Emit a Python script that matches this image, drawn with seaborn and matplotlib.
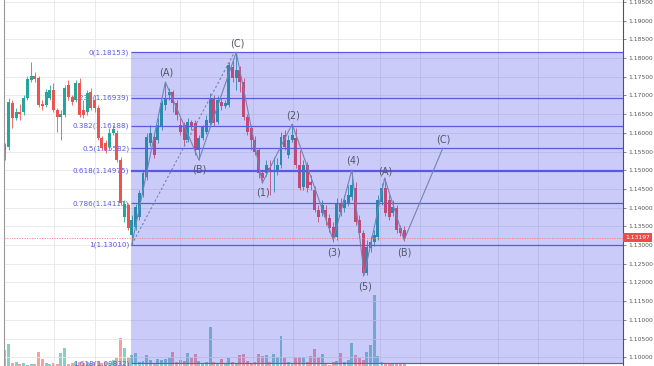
import numpy as np
import pandas as pd
import matplotlib
matplotlib.use("Agg")
import matplotlib.pyplot as plt
import matplotlib.transforms as mtransforms
import seaborn as sns

# OHLC (EUR/USD style), one entry per candle
opens = [1.1554, 1.1562, 1.1680, 1.1640, 1.1656, 1.1656, 1.1693, 1.1741, 1.1752, 1.1747,
         1.1677, 1.1674, 1.1693, 1.1714, 1.1661, 1.1642, 1.1648, 1.1728, 1.1696, 1.1688,
         1.1733, 1.1661, 1.1656, 1.1709, 1.1688, 1.1666, 1.1586, 1.1573, 1.1562, 1.1599,
         1.1599, 1.1527, 1.1375, 1.1407, 1.1327, 1.1348, 1.1375, 1.1434, 1.1482, 1.1573,
         1.1589, 1.1581, 1.1615, 1.1674, 1.1701, 1.1709, 1.1680, 1.1621, 1.1621, 1.1581,
         1.1629, 1.1626, 1.1554, 1.1586, 1.1602, 1.1626, 1.1693, 1.1629, 1.1682, 1.1672,
         1.1674, 1.1776, 1.1747, 1.1768, 1.1736, 1.1642, 1.1613, 1.1581, 1.1554, 1.1492,
         1.1492, 1.1506, 1.1495, 1.1495, 1.1514, 1.1594, 1.1541, 1.1581, 1.1586, 1.1514,
         1.1455, 1.1514, 1.1468, 1.1447, 1.1394, 1.1386, 1.1394, 1.1372, 1.1348, 1.1321,
         1.1412, 1.1399, 1.1412, 1.1428, 1.1452, 1.1367, 1.1332, 1.1225, 1.1292, 1.1308,
         1.1321, 1.1415, 1.1452, 1.1420, 1.1386, 1.1399, 1.1345, 1.1340]
highs = [1.1573, 1.1693, 1.1688, 1.1666, 1.1677, 1.1701, 1.1752, 1.1789, 1.1763, 1.1752,
         1.1688, 1.1717, 1.1728, 1.1733, 1.1666, 1.1661, 1.1728, 1.1741, 1.1701, 1.1741,
         1.1747, 1.1688, 1.1714, 1.1720, 1.1701, 1.1674, 1.1591, 1.1581, 1.1613, 1.1621,
         1.1607, 1.1535, 1.1420, 1.1412, 1.1380, 1.1410, 1.1447, 1.1501, 1.1599, 1.1621,
         1.1599, 1.1640, 1.1688, 1.1736, 1.1720, 1.1714, 1.1688, 1.1640, 1.1629, 1.1640,
         1.1634, 1.1634, 1.1594, 1.1621, 1.1648, 1.1706, 1.1701, 1.1698, 1.1693, 1.1688,
         1.1789, 1.1795, 1.1815, 1.1779, 1.1747, 1.1650, 1.1621, 1.1591, 1.1559, 1.1501,
         1.1527, 1.1527, 1.1535, 1.1533, 1.1602, 1.1607, 1.1594, 1.1624, 1.1613, 1.1554,
         1.1527, 1.1522, 1.1487, 1.1458, 1.1407, 1.1420, 1.1407, 1.1383, 1.1361, 1.1426,
         1.1426, 1.1434, 1.1460, 1.1495, 1.1468, 1.1380, 1.1340, 1.1313, 1.1324, 1.1340,
         1.1434, 1.1466, 1.1479, 1.1434, 1.1420, 1.1407, 1.1353, 1.1351]
lows = [1.1527, 1.1554, 1.1613, 1.1634, 1.1634, 1.1648, 1.1688, 1.1736, 1.1736, 1.1669,
        1.1661, 1.1669, 1.1688, 1.1656, 1.1602, 1.1581, 1.1642, 1.1688, 1.1674, 1.1682,
        1.1642, 1.1640, 1.1648, 1.1661, 1.1656, 1.1581, 1.1554, 1.1546, 1.1554, 1.1594,
        1.1522, 1.1407, 1.1361, 1.1340, 1.1301, 1.1340, 1.1367, 1.1428, 1.1474, 1.1565,
        1.1533, 1.1573, 1.1607, 1.1661, 1.1688, 1.1656, 1.1634, 1.1594, 1.1567, 1.1575,
        1.1607, 1.1541, 1.1527, 1.1581, 1.1597, 1.1621, 1.1618, 1.1624, 1.1661, 1.1666,
        1.1669, 1.1736, 1.1714, 1.1709, 1.1634, 1.1594, 1.1554, 1.1541, 1.1479, 1.1466,
        1.1484, 1.1434, 1.1442, 1.1487, 1.1506, 1.1554, 1.1533, 1.1575, 1.1506, 1.1447,
        1.1447, 1.1442, 1.1447, 1.1388, 1.1361, 1.1378, 1.1353, 1.1335, 1.1308, 1.1313,
        1.1378, 1.1388, 1.1404, 1.1420, 1.1353, 1.1319, 1.1217, 1.1220, 1.1281, 1.1297,
        1.1313, 1.1407, 1.1378, 1.1367, 1.1378, 1.1332, 1.1324, 1.1311]
closes = [1.1567, 1.1682, 1.1640, 1.1656, 1.1650, 1.1693, 1.1744, 1.1752, 1.1744, 1.1674,
          1.1672, 1.1709, 1.1714, 1.1661, 1.1642, 1.1650, 1.1720, 1.1696, 1.1682, 1.1733,
          1.1648, 1.1648, 1.1706, 1.1666, 1.1666, 1.1586, 1.1559, 1.1554, 1.1599, 1.1610,
          1.1527, 1.1412, 1.1410, 1.1345, 1.1367, 1.1402, 1.1439, 1.1492, 1.1589, 1.1599,
          1.1541, 1.1621, 1.1680, 1.1693, 1.1709, 1.1680, 1.1648, 1.1602, 1.1581, 1.1629,
          1.1618, 1.1554, 1.1586, 1.1615, 1.1634, 1.1693, 1.1626, 1.1688, 1.1672, 1.1680,
          1.1781, 1.1747, 1.1768, 1.1736, 1.1642, 1.1602, 1.1581, 1.1549, 1.1492, 1.1479,
          1.1514, 1.1495, 1.1501, 1.1514, 1.1589, 1.1562, 1.1581, 1.1594, 1.1514, 1.1452,
          1.1514, 1.1452, 1.1460, 1.1394, 1.1375, 1.1407, 1.1375, 1.1345, 1.1319, 1.1412,
          1.1388, 1.1420, 1.1434, 1.1460, 1.1361, 1.1332, 1.1225, 1.1295, 1.1308, 1.1327,
          1.1420, 1.1452, 1.1386, 1.1375, 1.1402, 1.1340, 1.1332, 1.13197]
volumes = [16, 22, 3, 4, 2, 3, 1, 2, 2, 14, 7, 3, 2, 3, 2, 13, 18, 2, 3, 4,
           4, 3, 4, 3, 4, 5, 3, 4, 3, 6, 8, 28, 18, 9, 11, 13, 4, 5, 11, 6,
           3, 7, 6, 7, 8, 14, 4, 6, 5, 13, 8, 12, 5, 3, 4, 39, 4, 3, 7, 3,
           8, 4, 3, 11, 12, 5, 3, 4, 12, 10, 11, 4, 12, 9, 30, 8, 4, 3, 9, 9,
           9, 4, 10, 17, 9, 12, 2, 1, 4, 5, 13, 4, 6, 23, 11, 8, 6, 14, 21, 71,
           10, 4, 3, 2, 2, 3, 2, 2]

fib_ratios = ["0", "0.236", "0.382", "0.5", "0.618", "0.786", "1", "1.618"]
fib_prices = [1.18153, 1.16939, 1.16188, 1.15582, 1.14975, 1.14111, 1.13010, 1.09832]
fib_start = 33.9

# Elliott wave pivots: (candle index, price, label, label offset in pt)
wave_abc_idx = [34, 43, 52, 62]
wave_abc_px = [1.13010, 1.17358, 1.15273, 1.18153]
wave_abc_lbl = ["", "(A)", "(B)", "(C)"]
wave_abc_dy = [0, 6.5, -7, 6.5]

wave_imp_idx = [62, 69, 77, 88, 93, 96.3, 101.8, 107, 117.4]
wave_imp_px = [1.18153, 1.14658, 1.16235, 1.13133, 1.15005, 1.12197, 1.14791, 1.13133, 1.15593]
wave_imp_lbl = ["", "(1)", "(2)", "(3)", "(4)", "(5)", "(A)", "(B)", "(C)"]
wave_imp_dy = [0, -7, 6, -9, 6.5, -8, 5, -9, 6]

current_price = 1.13197
price_ticks = [1.100, 1.105, 1.110, 1.115, 1.120, 1.125, 1.130, 1.135, 1.140,
               1.145, 1.150, 1.155, 1.160, 1.165, 1.170, 1.175, 1.180, 1.185,
               1.190, 1.195]
vgrid = [13.1, 24.1, 46.9, 66.5, 77.2, 89.3, 100.5, 111.3, 132.2, 142.9, 155.0]

GREEN = "#26a69a"
RED = "#ef5350"
FIB = "#5a5ae0"

df = pd.DataFrame({"o": opens, "h": highs, "l": lows, "c": closes, "v": volumes})
df["idx"] = np.arange(len(df))
df["up"] = df["c"] >= df["o"]
df["col"] = np.where(df["up"], GREEN, RED)

sns.set_style("white")
plt.rcParams["font.family"] = ["DejaVu Sans"]

fig = plt.figure(figsize=(6.54, 3.66), dpi=100)
rect = [4 / 654, 0, 619 / 654, 1]
xlim = (-0.27, 165.7)

# volume panel behind
axv = fig.add_axes(rect, zorder=0)
axv.bar(df["idx"], df["v"], width=0.8, color=df["col"], alpha=0.55, linewidth=0)
axv.set_xlim(*xlim)
axv.set_ylim(0, max(volumes) * 366 / 71)
axv.axis("off")

ax = fig.add_axes(rect, zorder=1)
ax.patch.set_alpha(0)
ax.set_xlim(*xlim)
ax.set_ylim(1.09765, 1.19551)

for p in price_ticks:
    ax.axhline(p, color="#e6e6e6", lw=0.6, zorder=0)
for g in vgrid:
    ax.axvline(g, color="#e6e6e6", lw=0.6, zorder=0)

# fib labels (behind candles)
for r, p in zip(fib_ratios, fib_prices):
    ax.text(fib_start - 0.6, p, f"{r}({p:.5f})", ha="right", va="center",
            fontsize=5.2, color=FIB, zorder=1)

# candles
body_lo = df[["o", "c"]].min(axis=1)
body_h = (df["o"] - df["c"]).abs().clip(lower=0.00012)
ax.vlines(df["idx"], df["l"], df["h"], colors=df["col"], lw=0.6, zorder=2)
ax.bar(df["idx"], body_h, bottom=body_lo, width=0.8, color=df["col"], linewidth=0, zorder=2)

# fib retracement box
ax.fill_between([fib_start, xlim[1]], fib_prices[-1], fib_prices[0],
                color="#3333ee", alpha=0.25, linewidth=0, zorder=3)
for r, p in zip(fib_ratios, fib_prices):
    ax.hlines(p, fib_start, xlim[1], color=FIB, lw=1.6 if r == "0.618" else 0.9, zorder=4)

# current price line
ax.axhline(current_price, color="#f08080", lw=0.6, ls=(0, (1.5, 1.5)), zorder=4)

# dotted trend line from start to (C)
ax.plot([wave_abc_idx[0], wave_abc_idx[-1] - 0.8], [wave_abc_px[0], wave_abc_px[-1] - 0.0006],
        color="#7080b8", lw=0.8, ls=(0, (2, 2)), zorder=5)

wave_df = pd.DataFrame({
    "idx": wave_abc_idx + wave_imp_idx,
    "px": wave_abc_px + wave_imp_px,
    "grp": ["abc"] * len(wave_abc_idx) + ["imp"] * len(wave_imp_idx),
})
sns.lineplot(data=wave_df, x="idx", y="px", units="grp", estimator=None, sort=False,
             color="#7383b5", lw=0.8, ax=ax, zorder=5)

for xs, ys, ls, ds in [(wave_abc_idx, wave_abc_px, wave_abc_lbl, wave_abc_dy),
                       (wave_imp_idx, wave_imp_px, wave_imp_lbl, wave_imp_dy)]:
    for x, y, l, d in zip(xs, ys, ls, ds):
        if l:
            ax.annotate(l, (x, y), xytext=(0.5, d), textcoords="offset points",
                        ha="center", va="center", fontsize=7, color="#55556a", zorder=6)

# axes styling
ax.set_xlabel("")
ax.set_ylabel("")
ax.set_xticks([])
ax.yaxis.tick_right()
ax.set_yticks(price_ticks)
ax.set_yticklabels([f"{p:.5f}" for p in price_ticks])
ax.tick_params(axis="y", right=True, length=2, width=0.5, pad=2,
               labelsize=4.3, labelcolor="#555555", color="#555555")
for s in ["top", "bottom"]:
    ax.spines[s].set_visible(False)
ax.spines["left"].set_color("#999999")
ax.spines["left"].set_linewidth(0.8)
ax.spines["right"].set_color("#555555")
ax.spines["right"].set_linewidth(0.8)

# price label on the axis
trans = mtransforms.blended_transform_factory(ax.transAxes, ax.transData)
ax.text(1.003, current_price, f"{current_price:.5f}", transform=trans, ha="left", va="center",
        fontsize=4.3, color="white", zorder=7, clip_on=False,
        bbox=dict(boxstyle="square,pad=0.35", fc="#ef4b4b", ec="none"))

fig.savefig("out.png", dpi=100)
